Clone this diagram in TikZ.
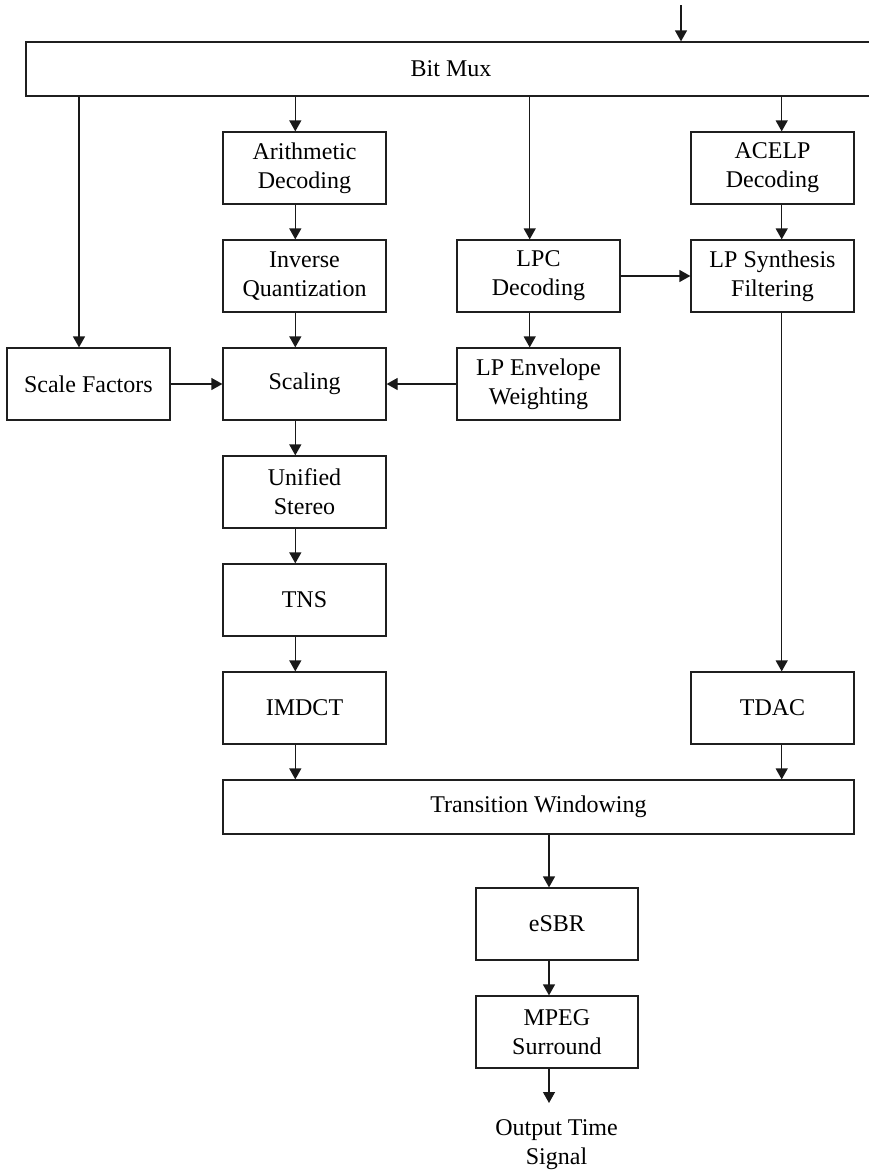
\documentclass[tikz,border=0pt]{standalone}
\usepackage{fontspec}
\setmainfont{Liberation Serif}
\usetikzlibrary{arrows.meta}

\begin{document}
\begin{tikzpicture}[x=1pt,y=-1pt,
  every node/.style={font=\fontsize{24}{29}\selectfont},
  blk/.style={draw=black!88, line width=1.25pt, rectangle, align=center,
              minimum width=163pt, minimum height=72pt, inner sep=0pt},
  wide/.style={draw=black!88, line width=1.25pt, rectangle, align=center,
               minimum height=54pt, inner sep=0pt},
  arr/.style={draw=black!90, line width=1.25pt, -{Triangle[length=11pt,width=12pt]}}
]
\useasboundingbox (0,0) rectangle (868,1170);

% column positions of the vertical signal lines
\coordinate (cSF) at (79,0);
\coordinate (cM)  at (295.3,0);
\coordinate (cL)  at (529.7,0);
\coordinate (cR)  at (781.7,0);
\coordinate (cO)  at (549,0);
\coordinate (in)  at (681,5);

% blocks
\node[wide, minimum width=850pt] (bitmux) at (451,69) {Bit Mux};

\node[blk] (arith)   at (304.5,168) {Arithmetic\\Decoding};
\node[blk] (invq)    at (304.5,276) {Inverse\\Quantization};
\node[blk] (scaling) at (304.5,384) {Scaling};
\node[blk] (unified) at (304.5,492) {Unified\\Stereo};
\node[blk] (tns)     at (304.5,600) {TNS};
\node[blk] (imdct)   at (304.5,708) {IMDCT};

\node[blk] (sf)      at (88.4,384)  {Scale Factors};

\node[blk] (lpc)     at (538.5,276) {LPC\\Decoding};
\node[blk] (lpenv)   at (538.5,384) {LP Envelope\\Weighting};

\node[blk] (acelp)   at (772.5,168) {ACELP\\Decoding};
\node[blk] (lpsyn)   at (772.5,276) {LP Synthesis\\Filtering};
\node[blk] (tdac)    at (772.5,708) {TDAC};

\node[wide, minimum width=631pt] (tw) at (538.5,807) {Transition Windowing};

\node[blk, minimum width=162pt] (esbr) at (556.9,924)  {eSBR};
\node[blk, minimum width=162pt] (mpeg) at (556.9,1032) {MPEG\\Surround};

\node[align=center, anchor=north, inner sep=0pt] (out) at (556.5,1119) {Output Time\\Signal};

% input
\draw[arr] (in) -- (bitmux.north -| in);

% outputs of the bit multiplexer
\draw[arr] (bitmux.south -| cSF) -- (sf.north -| cSF);
\draw[arr] (bitmux.south -| cM)  -- (arith.north -| cM);
\draw[arr] (bitmux.south -| cL)  -- (lpc.north -| cL);
\draw[arr] (bitmux.south -| cR)  -- (acelp.north -| cR);

% frequency-domain path
\draw[arr] (arith.south -| cM)   -- (invq.north -| cM);
\draw[arr] (invq.south -| cM)    -- (scaling.north -| cM);
\draw[arr] (scaling.south -| cM) -- (unified.north -| cM);
\draw[arr] (unified.south -| cM) -- (tns.north -| cM);
\draw[arr] (tns.south -| cM)     -- (imdct.north -| cM);
\draw[arr] (imdct.south -| cM)   -- (tw.north -| cM);

\draw[arr] (sf.east) -- (scaling.west);
\draw[arr] (lpenv.west) -- (scaling.east);

% LPC / ACELP path
\draw[arr] (lpc.south -| cL) -- (lpenv.north -| cL);
\draw[arr] (lpc.east) -- (lpsyn.west);
\draw[arr] (acelp.south -| cR) -- (lpsyn.north -| cR);
\draw[arr] (lpsyn.south -| cR) -- (tdac.north -| cR);
\draw[arr] (tdac.south -| cR)  -- (tw.north -| cR);

% post-processing
\draw[arr] (tw.south -| cO)   -- (esbr.north -| cO);
\draw[arr] (esbr.south -| cO) -- (mpeg.north -| cO);
\draw[arr, shorten >=16pt] (mpeg.south -| cO) -- (out.north -| cO);
\end{tikzpicture}
\end{document}
